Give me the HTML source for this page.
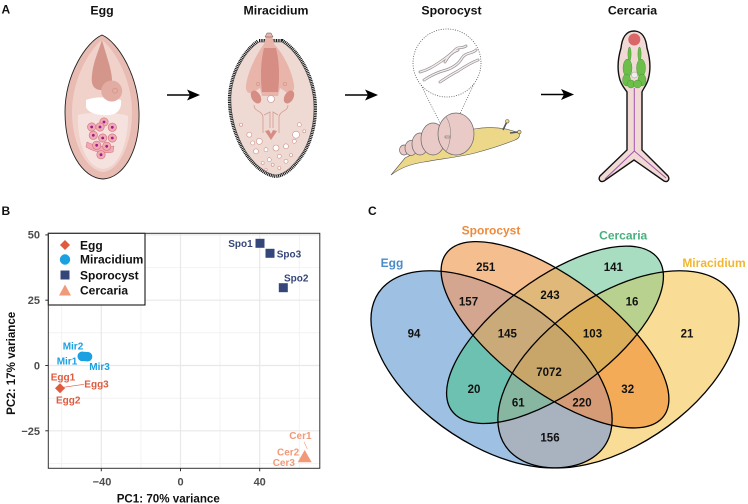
<!DOCTYPE html>
<html><head><meta charset="utf-8">
<style>
html,body{margin:0;padding:0;background:#fff;}
svg{display:block;}
text{font-family:"Liberation Sans",Arial,sans-serif;}
</style></head>
<body>
<svg width="748" height="504" viewBox="0 0 748 504" xmlns="http://www.w3.org/2000/svg">
<rect width="748" height="504" fill="#fff"/>

<!-- Panel letters -->
<g font-size="12" font-weight="bold" fill="#111">
<text x="1.5" y="13.5">A</text>
<text x="1.5" y="215">B</text>
<text x="368" y="215">C</text>
</g>

<!-- Panel A titles -->
<g font-size="12.3" font-weight="bold" text-anchor="middle" fill="#111">
<text x="102" y="14.5">Egg</text>
<text x="276" y="14.5">Miracidium</text>
<text x="451.5" y="14.5">Sporocyst</text>
<text x="632.5" y="14.5">Cercaria</text>
</g>

<!-- Arrows -->
<g fill="#000" stroke="#000">
<line x1="167" y1="95" x2="192" y2="95" stroke-width="1.6"/>
<polygon points="200,95 187,89.5 190,95 187,100.5" stroke="none"/>
<line x1="345" y1="95" x2="370" y2="95" stroke-width="1.6"/>
<polygon points="378,95 365,89.5 368,95 365,100.5" stroke="none"/>
<line x1="541" y1="94.5" x2="566" y2="94.5" stroke-width="1.6"/>
<polygon points="574,94.5 561,89 564,94.5 561,100" stroke="none"/>
</g>

<!-- Egg illustration -->
<g>
<path d="M102,35 C118,42 138,75 139,112 C140,150 124,178 103,179 C82,178 65,150 65,112 C65,75 86,42 102,35 Z" fill="#E8BCB3" stroke="#222" stroke-width="0.9"/>
<path d="M102,40 C115,50 132,80 132,112 C132,146 118,171 103,172 C88,171 72,146 72,112 C72,80 89,50 102,40 Z" fill="#F0D2CB"/>
<path d="M78,115 C85,112 120,112 128,116 C128,145 118,168 103,169 C88,168 77,145 78,115 Z" fill="#F5E2DE"/>
<path d="M102,40 C106,55 112,70 112,80 C112,88 106,91 100,90 C93,89 91,84 92,75 C93,62 99,50 102,40 Z" fill="#D4958B"/>
<path d="M86,100 C95,96 112,97 121,100 C122,108 118,114 110,115 C98,116 88,113 86,107 Z" fill="#FFFFFF"/>
<circle cx="111.7" cy="91" r="10.5" fill="#E2ACA3"/>
<circle cx="115" cy="90.7" r="2.5" fill="none" stroke="#CE8F86" stroke-width="0.6"/>
<path d="M87,142 C95,146 105,148 114,146 L113,152 C104,154 94,152 86,147 Z" fill="#F1AAB3" stroke="#D0707C" stroke-width="0.5"/>
<g fill="#F1AAB3" stroke="#D0707C" stroke-width="0.6">
<circle cx="104" cy="122" r="4.2"/><circle cx="91.7" cy="127" r="4.2"/><circle cx="100" cy="127" r="4.2"/><circle cx="112.3" cy="127.3" r="4.2"/>
<circle cx="93.3" cy="135.3" r="4.2"/><circle cx="102.7" cy="138" r="4.2"/><circle cx="112.3" cy="138" r="4.2"/>
<circle cx="96.7" cy="145.3" r="4.2"/><circle cx="106.7" cy="146.3" r="4.2"/><circle cx="101" cy="154.7" r="4.2"/>
</g>
<g fill="#9A1F8A">
<circle cx="104" cy="122" r="1.4"/><circle cx="91.7" cy="127" r="1.4"/><circle cx="100" cy="127" r="1.4"/><circle cx="112.3" cy="127.3" r="1.4"/>
<circle cx="93.3" cy="135.3" r="1.4"/><circle cx="102.7" cy="138" r="1.4"/><circle cx="112.3" cy="138" r="1.4"/>
<circle cx="96.7" cy="145.3" r="1.4"/><circle cx="106.7" cy="146.3" r="1.4"/><circle cx="101" cy="154.7" r="1.4"/>
</g>
</g>

<!-- Miracidium illustration -->
<g>
<path d="M259,42 L282,42 C295,50 309,70 313,95 C316,115 312,135 304,150 C296,163 286,174 276,175 C265,174 253,163 245,150 C236,135 230,115 231,95 C233,70 247,50 259,42 Z" fill="none" stroke="#111" stroke-width="6" stroke-dasharray="1 0.7"/>
<path d="M259,42 L282,42 C295,50 309,70 313,95 C316,115 312,135 304,150 C296,163 286,174 276,175 C265,174 253,163 245,150 C236,135 230,115 231,95 C233,70 247,50 259,42 Z" fill="#EFD9D3" stroke="#444" stroke-width="0.6"/>
<path d="M266,36 L272,36 L274,44 C282,52 292,70 294,85 C295,92 290,95 286,92 L280,88 L278,96 L262,96 L260,88 L254,92 C249,95 245,92 246,85 C248,70 258,52 264,44 Z" fill="#E9B5AB"/>
<path d="M267,33 L271,33 L273,37 L265,37 Z" fill="#E9B5AB" stroke="#333" stroke-width="0.4"/>
<path d="M264,48 L276,48 C279,60 280,75 278,92 L262,92 C260,75 261,60 264,48 Z" fill="#D68D83"/>
<ellipse cx="256" cy="97" rx="4.5" ry="7" transform="rotate(-30 256 97)" fill="#D68D83"/>
<ellipse cx="289" cy="97" rx="4.5" ry="7" transform="rotate(30 289 97)" fill="#D68D83"/>
<circle cx="258" cy="84" r="1.8" fill="none" stroke="#C98A80" stroke-width="0.5"/>
<circle cx="285" cy="84" r="1.8" fill="none" stroke="#C98A80" stroke-width="0.5"/>
<circle cx="271" cy="99" r="3.5" fill="#fff" stroke="#C98A80" stroke-width="0.6"/>
<g fill="none" stroke="#D39A90" stroke-width="0.8">
<path d="M254,105 C254,112 262,110 263,117 L263,133 M288,105 C288,112 280,110 279,117 L279,133 M264,115 L270,112 L270,128 M278,115 L273,112 L273,128"/>
</g>
<path d="M265,131 L271,140 L277,131 L273,130 L271,134 L269,130 Z" fill="#D68D83"/>
<g fill="#fff" stroke="#CF8F86" stroke-width="0.6">
<circle cx="241" cy="124.7" r="1.5"/><circle cx="249.3" cy="134.7" r="2.5"/><circle cx="252.7" cy="143" r="2"/>
<circle cx="259.3" cy="141.3" r="3"/><circle cx="266" cy="149.7" r="2"/><circle cx="256" cy="151.3" r="2.5"/>
<circle cx="276" cy="148" r="3"/><circle cx="286" cy="146.3" r="2.5"/><circle cx="294.3" cy="141.3" r="2"/>
<circle cx="296" cy="134.7" r="3.5"/><circle cx="299.3" cy="124.7" r="2"/><circle cx="304.3" cy="131.3" r="1.5"/>
<circle cx="269.3" cy="159.7" r="2"/><circle cx="279.3" cy="156.3" r="2"/><circle cx="262.7" cy="163" r="1.5"/>
<circle cx="272.7" cy="164.7" r="1.5"/><circle cx="286" cy="161.3" r="2"/><circle cx="279.3" cy="168" r="1.5"/>
<circle cx="266" cy="169.7" r="1.2"/><circle cx="291" cy="155" r="1.5"/>
</g>
</g>

<!-- Sporocyst / snail illustration -->
<g>
<circle cx="447" cy="63" r="34" fill="none" stroke="#555" stroke-width="0.8" stroke-dasharray="1 1.4"/>
<line x1="421" y1="85" x2="447" y2="137" stroke="#555" stroke-width="0.7" stroke-dasharray="1 1.4"/>
<line x1="474" y1="84" x2="449" y2="137" stroke="#555" stroke-width="0.7" stroke-dasharray="1 1.4"/>
<g fill="none" stroke-linecap="round">
<g stroke="#9A9090" stroke-width="2.8">
<path d="M424,80 C430,76 438,72 446,70 C452,68 458,65 462,58 C466,52 472,54 476,50"/>
<path d="M420,72 C428,70 434,66 440,62 C446,58 450,55 455,50 C458,46 462,49 466,46"/>
<path d="M440,82 C446,78 452,74 458,71 C464,67 470,63 478,60"/>
<path d="M445,62 C448,56 452,52 458,50"/>
</g>
<g stroke="#F2EEEE" stroke-width="1.4">
<path d="M424,80 C430,76 438,72 446,70 C452,68 458,65 462,58 C466,52 472,54 476,50"/>
<path d="M420,72 C428,70 434,66 440,62 C446,58 450,55 455,50 C458,46 462,49 466,46"/>
<path d="M440,82 C446,78 452,74 458,71 C464,67 470,63 478,60"/>
<path d="M445,62 C448,56 452,52 458,50"/>
</g>
</g>
<path d="M391,175 C400,168 410,164 424,162 C440,159 460,157 475,153 C490,149 505,144 515,140 C520,138 521,134 517,132 L506,129 C495,127 485,127 474,129 L440,140 L405,158 Z" fill="#EDD889" stroke="#555" stroke-width="0.6"/>
<line x1="503" y1="130" x2="507" y2="121.5" stroke="#555" stroke-width="1.6"/>
<circle cx="507.3" cy="121.3" r="1.8" fill="#EDD889" stroke="#555" stroke-width="0.6"/>
<line x1="510" y1="133" x2="518" y2="132" stroke="#555" stroke-width="1.6"/>
<circle cx="519.3" cy="132" r="1.8" fill="#EDD889" stroke="#555" stroke-width="0.6"/>
<g fill="#EACAC6" stroke="#666" stroke-width="0.7">
<ellipse cx="404" cy="150" rx="4.5" ry="5"/>
<ellipse cx="411" cy="148" rx="6" ry="7.5"/>
<ellipse cx="420" cy="144" rx="8" ry="11"/>
<ellipse cx="433" cy="139" rx="12" ry="16"/>
<ellipse cx="456" cy="134" rx="18" ry="21"/>
</g>
<path d="M446,117 C452,125 452,140 446,152" fill="none" stroke="#888" stroke-width="0.6"/>
<rect x="445" y="136" width="5" height="2" fill="none" stroke="#666" stroke-width="0.5"/>
</g>

<!-- Cercaria illustration -->
<g>
<path d="M634,31 C642,31 646,38 647,48 C650,58 651,70 648,80 C646,86 643,89 642,92 L642,150 L668,176 C670,179 668,183 664,181 L634,160 L604,181 C600,183 598,179 600,176 L627,150 L627,92 C625,89 622,86 620,80 C617,70 618,58 621,48 C622,38 626,31 634,31 Z" fill="#F1DAD5" stroke="#111" stroke-width="1.4"/>
<circle cx="634.3" cy="39.5" r="6" fill="#D96767"/>
<g fill="#6DBE4A" stroke="#3E8E2E" stroke-width="0.4">
<ellipse cx="629.5" cy="54" rx="1.6" ry="7"/>
<ellipse cx="639.5" cy="54" rx="1.6" ry="7"/>
<ellipse cx="627.5" cy="68" rx="4.5" ry="9"/>
<ellipse cx="641" cy="68" rx="4.5" ry="9"/>
<ellipse cx="626.5" cy="80" rx="4" ry="6"/>
<ellipse cx="642" cy="80" rx="4" ry="6"/>
<ellipse cx="631" cy="84" rx="4" ry="4"/>
<ellipse cx="637.5" cy="84" rx="4" ry="4"/>
</g>
<circle cx="634.5" cy="75" r="3" fill="#EEE" stroke="#999" stroke-width="0.5"/>
<path d="M634.3,88 L634.3,151 L605,179 M634.3,151 L666,178" fill="none" stroke="#A055A8" stroke-width="1"/>
</g>

<!-- ================= PCA (panel B) ================= -->
<g>
<!-- minor grid -->
<g stroke="#F0F0F0" stroke-width="0.8">
<line x1="61.7" y1="233.3" x2="61.7" y2="468.3"/>
<line x1="140.9" y1="233.3" x2="140.9" y2="468.3"/>
<line x1="220.1" y1="233.3" x2="220.1" y2="468.3"/>
<line x1="299.3" y1="233.3" x2="299.3" y2="468.3"/>
<line x1="48.3" y1="267.5" x2="319.8" y2="267.5"/>
<line x1="48.3" y1="332.8" x2="319.8" y2="332.8"/>
<line x1="48.3" y1="398.2" x2="319.8" y2="398.2"/>
<line x1="48.3" y1="463.5" x2="319.8" y2="463.5"/>
</g>
<!-- major grid -->
<g stroke="#E8E8E8" stroke-width="1.2">
<line x1="101.3" y1="233.3" x2="101.3" y2="468.3"/>
<line x1="180.5" y1="233.3" x2="180.5" y2="468.3"/>
<line x1="259.7" y1="233.3" x2="259.7" y2="468.3"/>
<line x1="48.3" y1="234.9" x2="319.8" y2="234.9"/>
<line x1="48.3" y1="300.2" x2="319.8" y2="300.2"/>
<line x1="48.3" y1="365.5" x2="319.8" y2="365.5"/>
<line x1="48.3" y1="430.8" x2="319.8" y2="430.8"/>
</g>

<!-- points -->
<g fill="#35467A">
<rect x="255.5" y="238.8" width="9" height="9"/>
<rect x="265.5" y="248.8" width="9" height="9"/>
<rect x="278.8" y="283.2" width="9" height="9"/>
</g>
<g fill="#1BA1E2">
<circle cx="82.3" cy="356.3" r="4.8"/>
<circle cx="85" cy="356.5" r="4.8"/>
<circle cx="87.5" cy="356.7" r="4.8"/>
</g>
<polygon points="60,383.3 65,388.3 60,393.3 55,388.3" fill="#E05A3E"/>
<polygon points="297.7,462.3 311.7,462.3 304.7,450" fill="#F09A7A"/>

<!-- repel segments -->
<line x1="63.3" y1="387.3" x2="84" y2="384.3" stroke="#E05A3E" stroke-width="0.6"/>
<line x1="304" y1="441.7" x2="307.3" y2="449" stroke="#F09A7A" stroke-width="0.6"/>

<!-- point labels -->
<g font-size="10" font-weight="bold">
<text x="252.7" y="247" text-anchor="end" fill="#35467A">Spo1</text>
<text x="276.7" y="257.7" fill="#35467A">Spo3</text>
<text x="284" y="281.3" fill="#35467A">Spo2</text>
<text x="62.7" y="349.6" fill="#1BA1E2">Mir2</text>
<text x="56.7" y="364.6" fill="#1BA1E2">Mir1</text>
<text x="89.3" y="370" fill="#1BA1E2">Mir3</text>
<text x="50.7" y="380.6" fill="#E05A3E">Egg1</text>
<text x="84.3" y="387.6" fill="#E05A3E">Egg3</text>
<text x="56" y="403.6" fill="#E05A3E">Egg2</text>
<text x="289.3" y="439" fill="#F09A7A">Cer1</text>
<text x="277" y="455.6" fill="#F09A7A">Cer2</text>
<text x="272.7" y="466" fill="#F09A7A">Cer3</text>
</g>

<!-- legend -->
<rect x="48.3" y="233.3" width="96.7" height="71.7" fill="#fff" stroke="#000" stroke-width="1"/>
<polygon points="65,240 70,245 65,250 60,245" fill="#E05A3E"/>
<circle cx="65" cy="259.5" r="5.2" fill="#1BA1E2"/>
<rect x="60.5" y="270.5" width="9" height="9" fill="#35467A"/>
<polygon points="59,295.5 71,295.5 65,284.5" fill="#F09A7A"/>
<g font-size="12" font-weight="bold" fill="#111">
<text x="80" y="249.3">Egg</text>
<text x="80" y="263.6">Miracidium</text>
<text x="80" y="279.3">Sporocyst</text>
<text x="80" y="294.3">Cercaria</text>
</g>

<!-- panel border -->
<rect x="48.3" y="233.3" width="271.5" height="235" fill="none" stroke="#333" stroke-width="1"/>

<!-- ticks -->
<g stroke="#333" stroke-width="1">
<line x1="45.3" y1="234.9" x2="48.3" y2="234.9"/>
<line x1="45.3" y1="300.2" x2="48.3" y2="300.2"/>
<line x1="45.3" y1="365.5" x2="48.3" y2="365.5"/>
<line x1="45.3" y1="430.8" x2="48.3" y2="430.8"/>
<line x1="101.3" y1="468.3" x2="101.3" y2="471.3"/>
<line x1="180.5" y1="468.3" x2="180.5" y2="471.3"/>
<line x1="259.7" y1="468.3" x2="259.7" y2="471.3"/>
</g>
<g font-size="11" font-weight="bold" fill="#4D4D4D">
<text x="40" y="238.7" text-anchor="end">50</text>
<text x="40" y="304" text-anchor="end">25</text>
<text x="40" y="369.5" text-anchor="end">0</text>
<text x="40" y="434.8" text-anchor="end">−25</text>
<text x="102" y="485.7" text-anchor="middle">−40</text>
<text x="180.5" y="485.7" text-anchor="middle">0</text>
<text x="259.7" y="485.7" text-anchor="middle">40</text>
</g>
<text x="116.7" y="502.5" font-size="11.6" font-weight="bold" fill="#111">PC1: 70% variance</text>
<text transform="translate(15,363.3) rotate(-90)" text-anchor="middle" font-size="11.6" font-weight="bold" fill="#111">PC2: 17% variance</text>
</g>

<!-- ================= Venn (panel C) ================= -->
<defs>
<clipPath id="cE"><ellipse cx=".35" cy=".47" rx=".35" ry=".2" transform="rotate(135 .35 .47)"/></clipPath>
<clipPath id="cS"><ellipse cx=".5" cy=".57" rx=".35" ry=".15" transform="rotate(135 .5 .57)"/></clipPath>
<clipPath id="cC"><ellipse cx=".5" cy=".57" rx=".33" ry=".15" transform="rotate(45 .5 .57)"/></clipPath>
</defs>
<g transform="matrix(423 0 0 -346 343.5 532)">
<!-- single sets -->
<ellipse cx=".35" cy=".47" rx=".35" ry=".2" transform="rotate(135 .35 .47)" fill="#9EC1E3"/>
<ellipse cx=".5" cy=".57" rx=".35" ry=".15" transform="rotate(135 .5 .57)" fill="#F5BE8F"/>
<ellipse cx=".5" cy=".57" rx=".33" ry=".15" transform="rotate(45 .5 .57)" fill="#A8DDC1"/>
<ellipse cx=".65" cy=".47" rx=".35" ry=".2" transform="rotate(45 .65 .47)" fill="#F9DC96"/>
<!-- pairs -->
<g clip-path="url(#cE)"><ellipse cx=".5" cy=".57" rx=".35" ry=".15" transform="rotate(135 .5 .57)" fill="#D4A690"/></g>
<g clip-path="url(#cE)"><ellipse cx=".5" cy=".57" rx=".33" ry=".15" transform="rotate(45 .5 .57)" fill="#6DC1B1"/></g>
<g clip-path="url(#cE)"><ellipse cx=".65" cy=".47" rx=".35" ry=".2" transform="rotate(45 .65 .47)" fill="#A9B3C0"/></g>
<g clip-path="url(#cS)"><ellipse cx=".5" cy=".57" rx=".33" ry=".15" transform="rotate(45 .5 .57)" fill="#E0B97A"/></g>
<g clip-path="url(#cS)"><ellipse cx=".65" cy=".47" rx=".35" ry=".2" transform="rotate(45 .65 .47)" fill="#F3AB57"/></g>
<g clip-path="url(#cC)"><ellipse cx=".65" cy=".47" rx=".35" ry=".2" transform="rotate(45 .65 .47)" fill="#B9D18F"/></g>
<!-- triples -->
<g clip-path="url(#cE)"><g clip-path="url(#cS)"><ellipse cx=".5" cy=".57" rx=".33" ry=".15" transform="rotate(45 .5 .57)" fill="#CBAA79"/></g></g>
<g clip-path="url(#cE)"><g clip-path="url(#cS)"><ellipse cx=".65" cy=".47" rx=".35" ry=".2" transform="rotate(45 .65 .47)" fill="#D59B76"/></g></g>
<g clip-path="url(#cE)"><g clip-path="url(#cC)"><ellipse cx=".65" cy=".47" rx=".35" ry=".2" transform="rotate(45 .65 .47)" fill="#87B6A1"/></g></g>
<g clip-path="url(#cS)"><g clip-path="url(#cC)"><ellipse cx=".65" cy=".47" rx=".35" ry=".2" transform="rotate(45 .65 .47)" fill="#DAAE5B"/></g></g>
<!-- all four -->
<g clip-path="url(#cE)"><g clip-path="url(#cS)"><g clip-path="url(#cC)"><ellipse cx=".65" cy=".47" rx=".35" ry=".2" transform="rotate(45 .65 .47)" fill="#C8A568"/></g></g></g>
<!-- outlines -->
<g fill="none" stroke="#000">
<ellipse cx=".35" cy=".47" rx=".35" ry=".2" transform="rotate(135 .35 .47)" vector-effect="non-scaling-stroke" stroke-width="1.3"/>
<ellipse cx=".5" cy=".57" rx=".35" ry=".15" transform="rotate(135 .5 .57)" vector-effect="non-scaling-stroke" stroke-width="1.3"/>
<ellipse cx=".5" cy=".57" rx=".33" ry=".15" transform="rotate(45 .5 .57)" vector-effect="non-scaling-stroke" stroke-width="1.3"/>
<ellipse cx=".65" cy=".47" rx=".35" ry=".2" transform="rotate(45 .65 .47)" vector-effect="non-scaling-stroke" stroke-width="1.3"/>
</g>
</g>

<!-- Venn set labels -->
<g font-size="12" font-weight="bold" text-anchor="middle">
<text x="392" y="267" fill="#4A8BC9">Egg</text>
<text x="491" y="234.3" fill="#EE8A3C">Sporocyst</text>
<text x="623.2" y="239.3" fill="#48B07E">Cercaria</text>
<text x="714" y="267" fill="#F2B630">Miracidium</text>
</g>

<!-- Venn counts -->
<g font-size="11.5" font-weight="bold" text-anchor="middle" fill="#111">
<text x="485.7" y="270.8">251</text>
<text x="613.3" y="270.8">141</text>
<text x="468.5" y="305.5">157</text>
<text x="550" y="299">243</text>
<text x="632" y="305.5">16</text>
<text x="414" y="337.4">94</text>
<text x="507.3" y="337.4">145</text>
<text x="592.5" y="337.4">103</text>
<text x="687" y="337.4">21</text>
<text x="549" y="375.8">7072</text>
<text x="474" y="393">20</text>
<text x="627.7" y="393">32</text>
<text x="518.3" y="406.5">61</text>
<text x="582" y="406.5">220</text>
<text x="550" y="441.4">156</text>
</g>

</svg>
</body></html>
